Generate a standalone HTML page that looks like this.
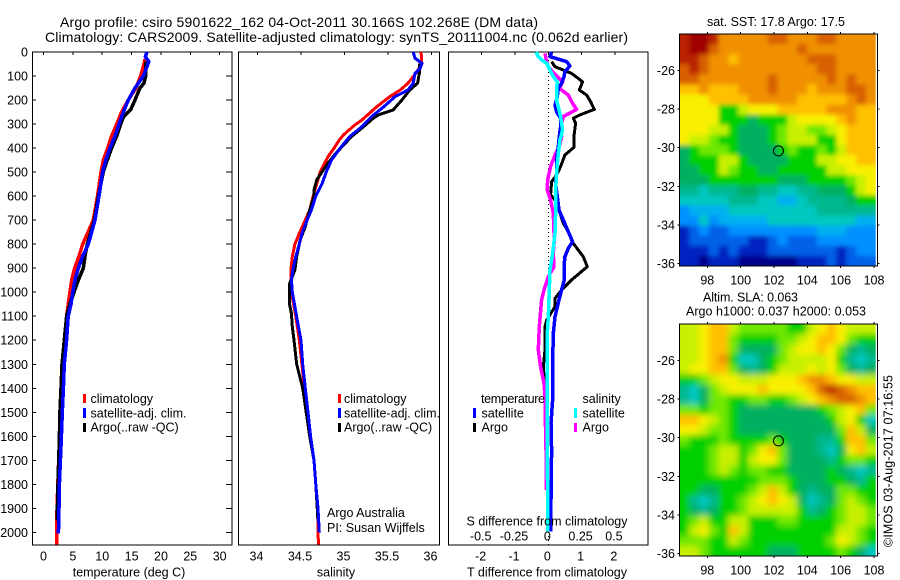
<!DOCTYPE html>
<html lang="en">
<head>
<meta charset="utf-8">
<title>Argo profile csiro 5901622_162</title>
<style>
html,body{margin:0;padding:0;background:#fff;width:900px;height:580px;overflow:hidden}
svg{display:block}
text{font-family:"Liberation Sans",sans-serif;font-size:12.5px;fill:#000}
.title{font-size:14px}
</style>
</head>
<body>
<svg id="chart" xmlns="http://www.w3.org/2000/svg" width="900" height="580" viewBox="0 0 900 580">
<defs>
<clipPath id="clip-sst"><rect x="679.3" y="34" width="196.4" height="232"/></clipPath>
<clipPath id="clip-sla"><rect x="679.3" y="324" width="196.4" height="232"/></clipPath>
<filter id="soft-sst" filterUnits="userSpaceOnUse" x="640" y="0" width="260" height="300"><feGaussianBlur stdDeviation="2.4"/></filter>
<filter id="soft-sla" filterUnits="userSpaceOnUse" x="640" y="290" width="260" height="290"><feGaussianBlur stdDeviation="3.2"/></filter>
</defs>

<text class="title" x="60" y="27" textLength="478" lengthAdjust="spacing">Argo profile: csiro 5901622_162 04-Oct-2011 30.166S 102.268E (DM data)</text>
<text class="title" x="45" y="42" textLength="583" lengthAdjust="spacing">Climatology: CARS2009. Satellite-adjusted climatology: synTS_20111004.nc (0.062d earlier)</text>

<g id="marks"></g>

<text x="129" y="576.5" text-anchor="middle">temperature (deg C)</text>
<text x="336" y="576.5" text-anchor="middle">salinity</text>
<text x="547" y="576.5" text-anchor="middle" textLength="160" lengthAdjust="spacing">T difference from climatology</text>
<text x="547" y="525.5" text-anchor="middle" textLength="161" lengthAdjust="spacing">S difference from climatology</text>

<g>
<rect x="83" y="394" width="3" height="9" fill="#f00"/>
<text x="90.5" y="403">climatology</text>
<rect x="83" y="408" width="3" height="10" fill="#00f"/>
<text x="90.5" y="417.5" textLength="96" lengthAdjust="spacing">satellite-adj. clim.</text>
<rect x="83" y="423" width="3" height="9" fill="#000"/>
<text x="90.5" y="431.5">Argo(..raw -QC)</text>
</g>

<g>
<rect x="338" y="394" width="3" height="9" fill="#f00"/>
<text x="344" y="403">climatology</text>
<rect x="338" y="408" width="3" height="10" fill="#00f"/>
<text x="344" y="417.5" textLength="96" lengthAdjust="spacing">satellite-adj. clim.</text>
<rect x="338" y="423" width="3" height="9" fill="#000"/>
<text x="344" y="431.5">Argo(..raw -QC)</text>
</g>

<text x="327" y="517">Argo Australia</text>
<text x="327" y="532">PI: Susan Wijffels</text>

<g>
<text x="481" y="403" textLength="64" lengthAdjust="spacing">temperature</text>
<rect x="473" y="408" width="3" height="10" fill="#00f"/>
<text x="481.5" y="417.5">satellite</text>
<rect x="473" y="423" width="3" height="9" fill="#000"/>
<text x="481.5" y="431.5">Argo</text>
<text x="582.5" y="403">salinity</text>
<rect x="574" y="408" width="3" height="10" fill="#0ff"/>
<text x="582.5" y="417.5">satellite</text>
<rect x="574" y="423" width="3" height="9" fill="#f0f"/>
<text x="582.5" y="431.5">Argo</text>
</g>

<text x="707" y="26" textLength="138" lengthAdjust="spacing">sat. SST: 17.8 Argo: 17.5</text>
<text x="703" y="301.5" textLength="95" lengthAdjust="spacing">Altim. SLA: 0.063</text>
<text x="686" y="315.5" textLength="180" lengthAdjust="spacing">Argo h1000: 0.037 h2000: 0.053</text>
<text transform="translate(892.5,547) rotate(-90)" textLength="172" lengthAdjust="spacing">©IMOS 03-Aug-2017 07:16:55</text>
</svg>

<script>
// ---- axis tick data ----
const depthTicks = [0,100,200,300,400,500,600,700,800,900,1000,1100,1200,1300,1400,1500,1600,1700,1800,1900,2000];
const temperatureTicks = [0,5,10,15,20,25,30];
const salinityTicks = [34,34.5,35,35.5,36];
const tDiffTicks = [-2,-1,0,1,2];
const sDiffTicks = [-0.5,-0.25,0,0.25,0.5];
const lonTicks = [98,100,102,104,106,108];
const latTicks = [-26,-28,-30,-32,-34,-36];

// ---- temperature profiles ----
const tempClimDepth = [30,50,100,150,200,250,300,350,400,450,500,600,700,800,850,900,950,1000,1100,1200,1300,1400,1500,1600,1730,1850,1950,2050];
const tempClimValue = [17.28,17.11,16.54,15.75,14.44,13.3,12.46,11.6,10.93,10.19,9.79,9.2,8.48,6.67,6.04,5.3,4.8,4.5,3.94,3.6,3.15,3.04,2.87,2.75,2.53,2.36,2.24,2.3];
const tempSatDepth = [0,20,40,100,150,200,250,300,350,400,450,500,600,700,800,850,900,950,1000,1050,1100,1200,1300,1400,1500,1600,1700,1800,1900,2005];
const tempSatValue = [17.62,17.34,17.95,17.0,15.58,14.44,13.6,12.85,12.17,11.3,10.6,10.07,9.45,8.77,7.63,6.67,5.93,5.36,4.97,4.68,4.2,3.94,3.55,3.38,3.2,3.04,2.87,2.7,2.64,2.53];
const tempArgoDepth = [40,100,130,150,200,240,270,300,350,400,450,500,600,700,800,850,900,950,1000,1050,1100,1200,1300,1400,1500,1600,1700,1800,1900,1950];
const tempArgoValue = [17.4,17.4,17.1,16.43,15.58,14.84,13.6,13.14,12.46,11.6,10.87,10.19,9.34,8.65,7.46,7.07,6.78,5.93,5.2,4.5,3.94,3.55,3.15,2.98,2.8,2.7,2.58,2.47,2.36,2.3];

// ---- salinity profiles ----
const salClimDepth = [0,50,89,130,158,186,228,283,304,325,345,366,400,436,500,600,658,700,755,800,852,900,950,1000,1100,1200,1300,1400,1500,1600,1700,1800,1900,2050];
const salClimValue = [35.88,35.89,35.82,35.73,35.64,35.52,35.37,35.2,35.12,35.05,34.99,34.94,34.88,34.81,34.72,34.64,34.6,34.55,34.48,34.43,34.4,34.385,34.385,34.39,34.44,34.48,34.51,34.54,34.58,34.61,34.65,34.67,34.69,34.7];
const salSatDepth = [0,26,47,68,89,130,158,186,228,269,311,352,400,450,500,550,600,658,700,755,800,852,900,949,1000,1060,1143,1200,1300,1400,1500,1600,1700,1800,1900,2000];
const salSatValue = [35.79,35.81,35.89,35.87,35.81,35.79,35.73,35.58,35.45,35.31,35.2,35.06,34.95,34.85,34.79,34.74,34.67,34.62,34.57,34.51,34.48,34.44,34.41,34.39,34.4,34.43,34.47,34.5,34.52,34.55,34.58,34.61,34.65,34.67,34.695,34.71];
const salArgoDepth = [47,89,130,158,200,241,262,276,311,352,422,463,500,533,575,600,658,727,783,852,907,963,1046,1088,1143,1200,1300,1400,1500,1600,1700,1800,1950];
const salArgoValue = [35.86,35.86,35.84,35.75,35.66,35.56,35.39,35.33,35.22,35.08,34.9,34.81,34.74,34.68,34.65,34.65,34.6,34.55,34.49,34.45,34.43,34.37,34.365,34.39,34.4,34.42,34.45,34.52,34.56,34.6,34.65,34.67,34.695];

// ---- difference profiles ----
const tDiffSatDepth = [0,19,40,58,82,103,130,151,186,221,248,276,311,352,394,450,505,547,602,658,699,748,790,817,852,894,949,991,1032,1102,1171,1310,1449,1546,1657,1865,1997];
const tDiffSatValue = [0.10,0.05,0.55,0.65,0.50,0.47,0.40,0.30,0.27,0.20,0.25,0.37,0.37,0.33,0.30,0.25,0.25,0.22,0.27,0.32,0.45,0.60,0.73,0.60,0.50,0.47,0.48,0.40,0.32,0.20,0.15,0.13,0.13,0.08,0.10,0.08,0.07];
const tDiffArgoDepth = [40,61,89,124,158,179,207,239,262,276,297,352,397,429,477,512,540,595,616,658,713,755,797,852,894,949,991,1026,1060,1116,1143,1240,1310,1365,1421];
const tDiffArgoValue = [0.10,0.20,0.70,1.03,0.93,1.15,1.27,1.38,0.95,0.75,0.82,0.77,0.77,0.50,0.37,0.25,0.10,0.07,0.20,0.32,0.45,0.63,0.75,1.05,1.17,0.70,0.40,0.20,0.20,-0.05,-0.10,-0.10,-0.15,-0.12,-0.07];
const sDiffArgoDepth = [6,40,61,89,124,151,179,214,239,269,311,352,394,429,477,533,575,616,672,783,838,894,935,991,1032,1143,1240,1310,1379,1449,1518,1657,1823];
const sDiffArgoValue = [-0.025,-0.0125,0,0.0425,0.1075,0.0825,0.15,0.1825,0.2125,0.1125,0.0925,0.1,0.0825,0.05,0.0175,-0.005,-0.0075,0.0175,0.0375,0.045,0.0375,0.0425,0,-0.0325,-0.05,-0.0675,-0.075,-0.0575,-0.0325,-0.0225,-0.0225,-0.0175,-0.015];
const sDiffSatDepth = [0,19,33,47,75,103,124,151,200,269,325,366,422,505,575,672,755,838,908,991,1074,1102,1171,1310,1997];
const sDiffSatValue = [-0.0925,-0.075,-0.05,-0.0125,0.0125,0.0375,0.0675,0.0625,0.0625,0.0925,0.1075,0.0875,0.075,0.0625,0.055,0.055,0.05,0.0325,0.0125,0.0075,0.0025,0,-0.0075,-0.0075,-0.005];

// ---- map grids (colour level per cell, north to south) ----
const sstGrid = [
[15,16,16,15,13,13,13,13,13,14,14,13,13,13,14,14,13,13,13,13],
[15,16,16,14,13,13,13,13,13,13,13,13,14,13,13,13,13,13,13,13],
[15,15,14,13,13,12,13,13,13,13,13,13,13,14,14,14,13,13,13,13],
[14,15,14,13,13,13,13,13,13,13,13,13,13,13,14,14,13,13,13,13],
[14,14,13,13,13,13,13,13,13,14,13,13,13,13,13,14,13,14,13,13],
[12,12,13,12,12,12,13,13,13,14,13,13,13,12,13,13,13,14,14,13],
[11,11,11,12,12,12,12,13,13,13,13,13,12,12,12,12,12,13,14,13],
[11,11,11,11,8,8,10,11,11,11,12,12,12,12,12,13,13,13,12,12],
[11,11,11,11,8,8,8,7,8,8,8,10,11,11,11,11,12,13,12,12],
[11,11,11,10,10,8,7,7,7,8,9,10,10,9,9,10,11,12,12,12],
[11,10,10,9,8,8,7,7,7,8,9,10,10,10,8,8,11,12,12,12],
[7,8,9,9,9,8,7,7,7,7,8,9,8,8,9,8,10,12,12,12],
[7,8,8,8,10,10,8,7,7,7,7,8,8,8,10,10,11,11,12,12],
[7,7,8,8,10,9,8,8,7,7,8,8,8,8,8,10,10,11,11,11],
[7,7,7,8,8,8,8,8,8,8,7,7,7,8,8,8,8,9,10,11],
[6,6,5,6,6,6,7,7,6,6,5,5,6,6,7,7,7,8,10,11],
[5,5,5,5,5,6,6,6,5,5,4,4,5,6,6,6,6,7,8,8],
[3,4,4,4,4,5,5,5,5,5,5,5,5,5,6,6,6,6,6,6],
[3,3,5,3,4,4,4,4,4,5,5,5,5,5,5,5,5,5,4,4],
[1,2,3,2,2,3,3,3,3,3,3,3,3,3,4,4,4,3,3,3],
[1,2,2,2,2,2,2,1,1,2,3,2,2,2,3,3,3,3,3,3],
[1,1,1,2,1,2,1,1,1,2,2,2,2,2,2,2,1,2,3,3],
[1,1,0,1,1,1,0,0,0,0,0,0,1,1,1,2,1,2,2,2]
];
const slaGrid = [
[10,10,11,12,12,10,9,9,9,9,9,8,8,10,11,12,11,10,10,10],
[10,10,11,12,12,9,8,8,8,8,9,9,10,11,12,12,11,9,8,8],
[10,10,11,12,12,9,7,7,7,7,9,10,11,11,12,11,9,7,6,7],
[10,10,11,12,13,8,5,5,7,8,9,10,10,10,10,11,8,6,5,6],
[10,11,11,12,12,9,7,6,7,8,10,10,10,11,10,11,9,7,6,7],
[8,8,9,10,11,11,10,10,10,11,11,11,12,13,13,12,11,11,10,10],
[6,5,7,9,10,11,11,11,12,11,11,11,11,12,14,15,14,13,12,12],
[6,5,7,9,9,8,8,9,9,8,8,9,10,11,12,13,14,14,13,12],
[9,9,8,9,9,8,7,7,7,7,7,7,7,7,8,9,10,11,12,9],
[12,12,11,10,9,8,7,7,7,7,7,7,7,7,7,8,10,11,8,5],
[11,11,10,9,9,8,7,7,7,7,7,7,7,7,7,7,9,12,10,7],
[9,8,8,8,9,8,8,8,8,9,8,7,7,7,6,6,8,12,12,9],
[8,8,8,9,10,10,8,9,11,12,9,7,7,7,6,5,7,11,12,10],
[8,8,8,9,10,10,8,10,11,11,9,7,7,7,7,6,8,9,9,8],
[8,8,8,9,10,9,8,9,9,8,8,7,7,7,7,8,7,6,5,6],
[8,8,8,8,8,8,8,8,9,9,9,8,7,7,7,8,8,7,6,8],
[8,8,7,7,8,8,8,9,10,12,10,8,7,6,7,7,9,9,8,8],
[8,6,5,6,8,8,9,10,11,12,11,10,7,5,6,7,9,10,9,8],
[8,7,6,7,8,8,9,10,10,10,10,10,8,6,7,8,9,10,10,9],
[8,9,10,8,8,10,10,8,8,8,9,9,8,8,8,8,9,10,10,9],
[8,10,11,9,8,12,10,8,8,8,8,8,8,8,8,8,10,10,9,8],
[9,9,9,8,8,10,9,8,8,8,8,8,8,8,8,9,11,10,9,8],
[10,10,9,8,8,8,8,8,8,7,7,7,8,8,8,8,9,8,7,5]
];
const colorLevels = ['#00008b','#0020c0','#0060e8','#0090ff','#00b0f0','#00c8c0','#00b890','#00b060','#00d000','#70e800','#c8f000','#f8f000','#ffc000','#f09000','#d86000','#b82000','#a00000'];
const floatLon = [102.268];
const floatLat = [-30.166];

// ---- axis functions ----
const depthY = d => 52 + d * 0.2402;
const tempX = v => 43.5 + v * 5.873;
const salX = v => 257.5 + (v - 34) * 87;
const tDiffX = v => 548.3 + v * 33.3;
const sDiffX = v => 548.3 + v * 133.2;
const lonX = v => 707.3 + (v - 98) * 16.67;
const latOffset = v => (-26 - v) * 19.3;

const NS = 'http://www.w3.org/2000/svg';
const marks = document.getElementById('marks');
function svgEl(tag, attrs, parent) {
  const el = document.createElementNS(NS, tag);
  for (const k in attrs) el.setAttribute(k, attrs[k]);
  (parent || marks).appendChild(el);
  return el;
}
function drawLine(x1, y1, x2, y2, name) {
  const el = svgEl('line', {x1, y1, x2, y2, stroke: '#000', 'stroke-width': 1, 'shape-rendering': 'crispEdges'});
  
  
  return el;
}
function drawLabel(x, y, str, anchor, name) {
  const el = svgEl('text', {x, y, 'text-anchor': anchor});
  el.textContent = str;
  
  
  return el;
}
function drawFrame(x, y, w, h, name) {
  const el = svgEl('rect', {x, y, width: w, height: h, fill: 'none', stroke: '#000', 'stroke-width': 1, 'shape-rendering': 'crispEdges'});
  
  
  return el;
}
function drawProfile(depths, values, xFn, color, width, name) {
  const pts = depths.map((d, i) => xFn(values[i]).toFixed(1) + ',' + depthY(d).toFixed(1)).join(' ');
  const el = svgEl('polyline', {points: pts, fill: 'none', stroke: color, 'stroke-width': width, 'stroke-linejoin': 'round', 'shape-rendering': 'crispEdges'});
  
  
  return el;
}

// ---- profile panels ----
drawFrame(32.5, 52, 199.5, 493, 'temperature-plot-frame');
drawFrame(238.5, 52, 201, 493, 'salinity-plot-frame');
drawFrame(448.5, 52, 199.5, 493, 'difference-plot-frame');

depthTicks.forEach(d => {
  drawLine(32.5, depthY(d), 36, depthY(d), 'depth-tick-left');
  drawLine(226, depthY(d), 232, depthY(d), 'depth-tick-right');
  drawLabel(28, depthY(d) + 4.5, String(d), 'end', 'depth-tick-label');
});
temperatureTicks.forEach(v => {
  drawLine(tempX(v), 52, tempX(v), 55, 'temperature-tick');
  drawLabel(tempX(v), 560.5, String(v), 'middle', 'temperature-tick-label');
});
salinityTicks.forEach(v => {
  drawLine(salX(v), 52, salX(v), 55, 'salinity-tick');
  drawLabel(salX(v) - 1, 560.5, String(v), 'middle', 'salinity-tick-label');
});
tDiffTicks.forEach(v => {
  drawLine(tDiffX(v), 52, tDiffX(v), 55, 'difference-tick');
  drawLabel(tDiffX(v) - 1, 560.5, String(v), 'middle', 't-difference-tick-label');
});
sDiffTicks.forEach(v => {
  drawLabel(sDiffX(v) - 1, 540.5, String(v), 'middle', 's-difference-tick-label');
});

drawProfile(tempClimDepth, tempClimValue, tempX, '#f00', 3.5, 'temperature-climatology-line');
drawProfile(tempArgoDepth, tempArgoValue, tempX, '#000', 3.5, 'temperature-argo-line');
drawProfile(tempSatDepth, tempSatValue, tempX, '#00f', 3.5, 'temperature-satellite-line');

drawProfile(salClimDepth, salClimValue, salX, '#f00', 3, 'salinity-climatology-line');
drawProfile(salArgoDepth, salArgoValue, salX, '#000', 3, 'salinity-argo-line');
drawProfile(salSatDepth, salSatValue, salX, '#00f', 3, 'salinity-satellite-line');

const zeroLine = svgEl('line', {x1: 548.5, y1: 52, x2: 548.5, y2: 545, stroke: '#000', 'stroke-width': 1, 'stroke-dasharray': '1 3', 'shape-rendering': 'crispEdges'});



drawProfile(tDiffArgoDepth, tDiffArgoValue, tDiffX, '#000', 3, 't-difference-argo-line');
drawProfile(sDiffArgoDepth, sDiffArgoValue, sDiffX, '#f0f', 3.5, 's-difference-argo-line');
drawProfile(tDiffSatDepth, tDiffSatValue, tDiffX, '#00f', 3.5, 't-difference-satellite-line');
drawProfile(sDiffSatDepth, sDiffSatValue, sDiffX, '#0ff', 3.5, 's-difference-satellite-line');

// ---- maps ----
function drawMap(grid, top, clipId, filterId, mapName) {
  const left = 679.3, cw = 196.4 / 20, ch = 232 / 23, pad = 14;
  const clipGroup = svgEl('g', {'clip-path': 'url(#' + clipId + ')'});
  
  
  const soft = svgEl('g', {filter: 'url(#' + filterId + ')'}, clipGroup);
  grid.forEach((row, r) => {
    row.forEach((v, c) => {
      const x = left + c * cw - (c === 0 ? pad : 0);
      const y = top + r * ch - (r === 0 ? pad : 0);
      const w = cw + 0.5 + (c === 0 || c === row.length - 1 ? pad : 0);
      const h = ch + 0.5 + (r === 0 || r === grid.length - 1 ? pad : 0);
      const level = Math.max(0, Math.min(colorLevels.length - 1, Math.round(v)));
      const cell = svgEl('rect', {x, y, width: w, height: h, fill: colorLevels[level]}, soft);
      
      
    });
  });
  drawFrame(679.5, top, 198, 232, mapName + '-frame');
  lonTicks.forEach(v => {
    drawLine(lonX(v), top - 2, lonX(v), top, 'longitude-tick-top');
    drawLine(lonX(v), top + 232, lonX(v), top + 234, 'longitude-tick-bottom');
    drawLabel(lonX(v), top + 250.5, String(v), 'middle', 'longitude-tick-label');
  });
  latTicks.forEach(v => {
    const y = top + 36.5 + latOffset(v);
    drawLine(677.5, y, 679.5, y, 'latitude-tick-left');
    drawLine(877.5, y, 879.5, y, 'latitude-tick-right');
    drawLabel(675, y + 4.5, String(v), 'end', 'latitude-tick-label');
  });
  const marker = svgEl('circle', {cx: lonX(floatLon[0]), cy: top + 36.5 + latOffset(floatLat[0]), r: 5, fill: 'none', stroke: '#000', 'stroke-width': 1});
  
  
}
drawMap(sstGrid, 34, 'clip-sst', 'soft-sst', 'sst-map');
drawMap(slaGrid, 324, 'clip-sla', 'soft-sla', 'sla-map');
</script>
</body>
</html>
